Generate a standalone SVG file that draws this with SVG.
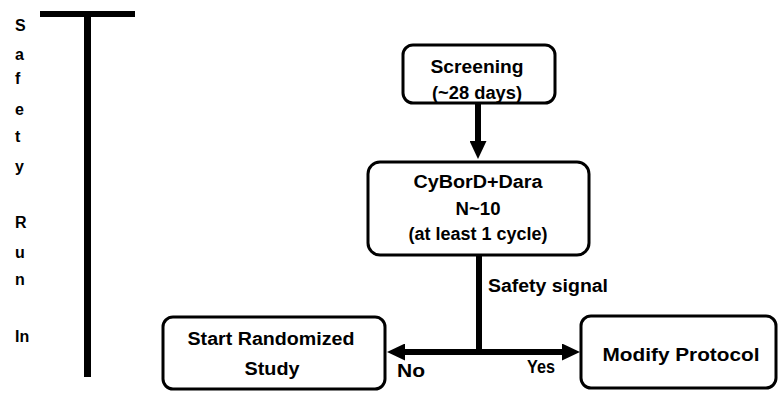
<svg xmlns="http://www.w3.org/2000/svg" width="779" height="395" viewBox="0 0 779 395">
  <style>
    .box { fill: #ffffff; stroke: #000000; stroke-width: 3; }
    .lbl { font-family: "Liberation Sans", Arial, sans-serif; font-weight: bold; font-size: 18px; fill: #000000; }
    .side { font-family: "Liberation Sans", Arial, sans-serif; font-weight: bold; font-size: 16px; fill: #000000; }
    .wire { fill: none; stroke: #000000; stroke-width: 6; }
  </style>
  <defs>
    <marker id="head" markerUnits="userSpaceOnUse" markerWidth="18" markerHeight="17" refX="8" refY="8.5" orient="auto">
      <path d="M0,0 L18,8.5 L0,17 z" fill="#000000"/>
    </marker>
  </defs>
  <rect width="779" height="395" fill="#ffffff"/>

  <!-- Safety run-in bracket -->
  <g id="safety-run-in">
    <rect x="40" y="11" width="95" height="6" fill="#000000"/>
    <rect x="84" y="11" width="7" height="366" fill="#000000"/>
    <text class="side" x="15" y="31">S</text>
    <text class="side" x="15" y="60">a</text>
    <text class="side" x="15" y="84">f</text>
    <text class="side" x="15" y="115">e</text>
    <text class="side" x="15" y="142">t</text>
    <text class="side" x="15" y="172">y</text>
    <text class="side" x="15" y="228">R</text>
    <text class="side" x="15" y="258">u</text>
    <text class="side" x="15" y="285">n</text>
    <text class="side" x="15" y="342">In</text>
  </g>

  <!-- Connectors -->
  <g id="connectors">
    <line class="wire" x1="478" y1="103" x2="478" y2="149" marker-end="url(#head)"/>
    <line class="wire" x1="479" y1="255" x2="479" y2="352" stroke-width="5"/>
    <line class="wire" x1="479" y1="352" x2="397" y2="352" marker-end="url(#head)"/>
    <line class="wire" x1="479" y1="352" x2="570" y2="352" marker-end="url(#head)"/>
    <text class="lbl" x="488" y="292" textLength="120" lengthAdjust="spacingAndGlyphs">Safety signal</text>
    <text class="lbl" x="397" y="377" textLength="28" lengthAdjust="spacingAndGlyphs">No</text>
    <text class="lbl" x="527" y="373" textLength="28" lengthAdjust="spacingAndGlyphs">Yes</text>
  </g>

  <g id="screening">
    <rect class="box" x="403" y="45" width="152" height="58" rx="10"/>
    <text class="lbl" x="477" y="73" text-anchor="middle" textLength="93" lengthAdjust="spacingAndGlyphs">Screening</text>
    <text class="lbl" x="477" y="99" text-anchor="middle" textLength="90" lengthAdjust="spacingAndGlyphs">(~28 days)</text>
  </g>

  <g id="cybord-dara">
    <rect class="box" x="368" y="162" width="221" height="93" rx="12"/>
    <text class="lbl" x="478" y="188" text-anchor="middle" textLength="129" lengthAdjust="spacingAndGlyphs">CyBorD+Dara</text>
    <text class="lbl" x="478" y="215" text-anchor="middle" textLength="45" lengthAdjust="spacingAndGlyphs">N~10</text>
    <text class="lbl" x="478" y="240" text-anchor="middle" textLength="139" lengthAdjust="spacingAndGlyphs">(at least 1 cycle)</text>
  </g>

  <g id="start-randomized">
    <rect class="box" x="163" y="317" width="222" height="72" rx="10"/>
    <text class="lbl" x="271" y="345" text-anchor="middle" textLength="167" lengthAdjust="spacingAndGlyphs">Start Randomized</text>
    <text class="lbl" x="272" y="375" text-anchor="middle" textLength="55" lengthAdjust="spacingAndGlyphs">Study</text>
  </g>

  <g id="modify-protocol">
    <rect class="box" x="581" y="316" width="195" height="72" rx="10"/>
    <text class="lbl" x="681" y="361" text-anchor="middle" textLength="157" lengthAdjust="spacingAndGlyphs">Modify Protocol</text>
  </g>
</svg>
